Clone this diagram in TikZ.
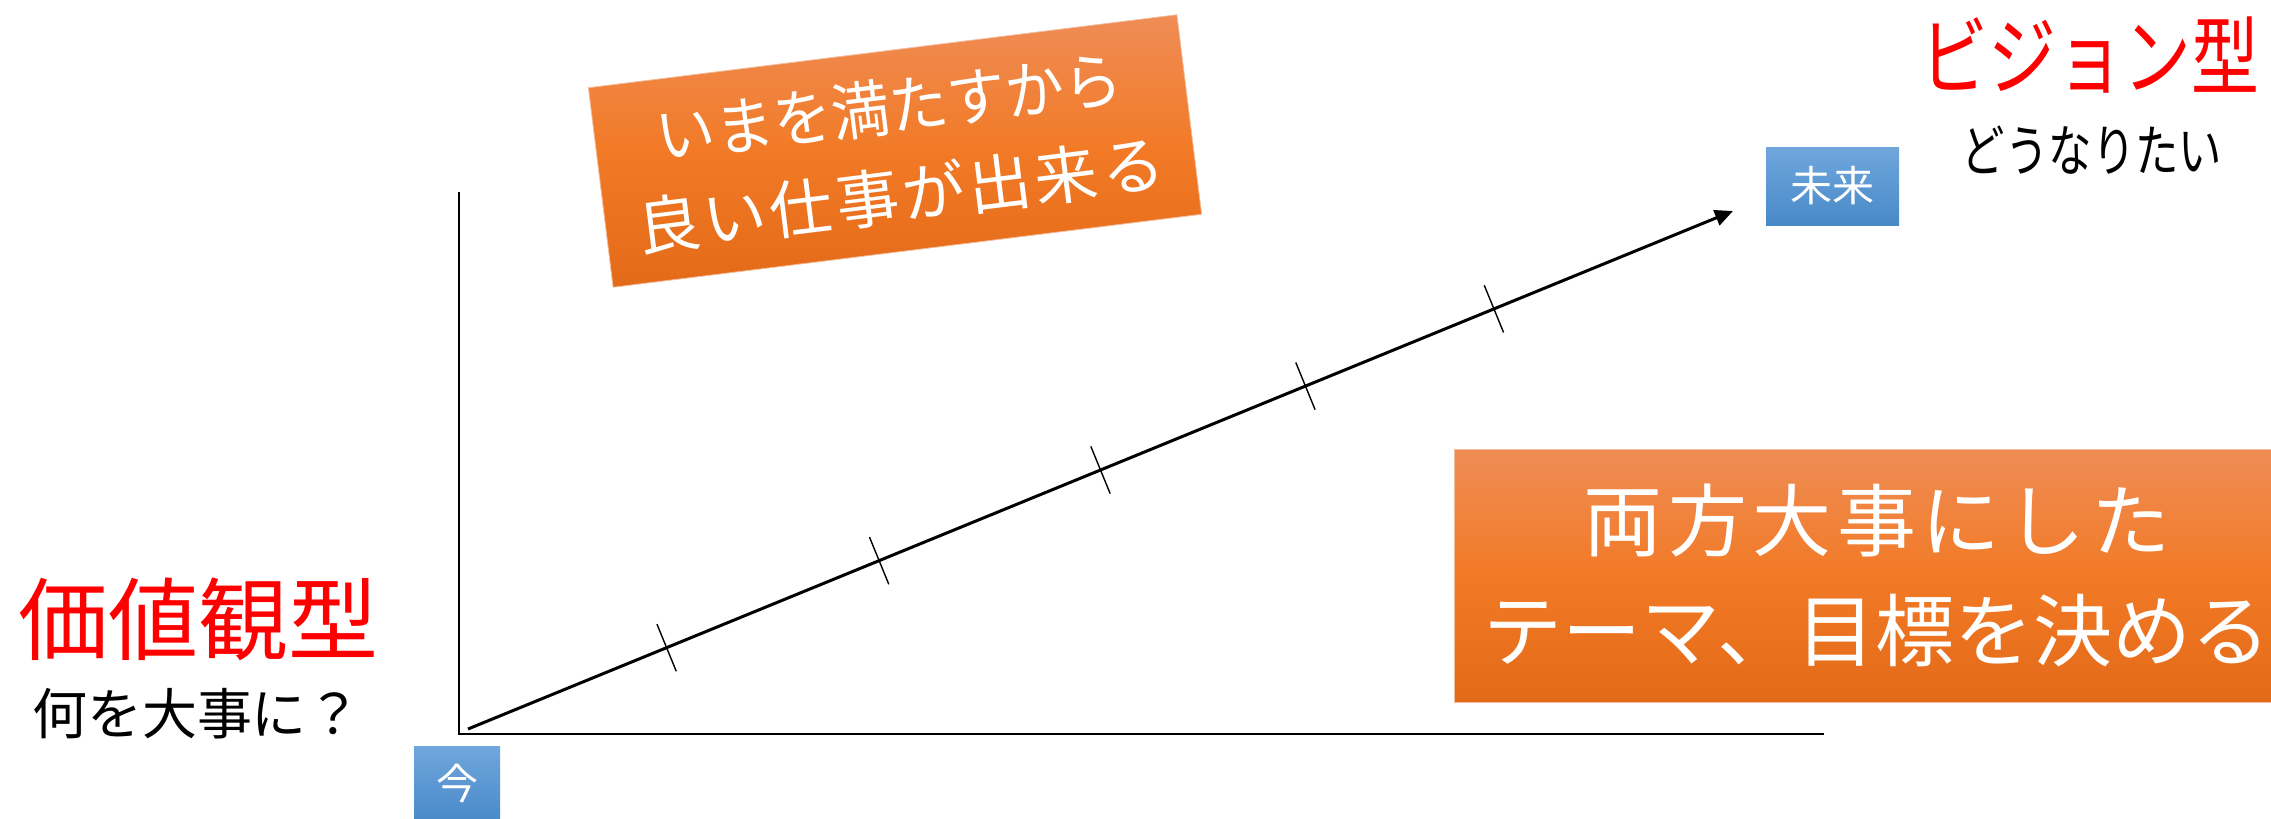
\documentclass[tikz,border=0pt]{standalone}
\usepackage{fontspec}
\usepackage{graphicx}
\newfontfamily\jp{Noto Sans CJK JP}
\usetikzlibrary{arrows.meta}
\definecolor{orTop}{RGB}{239,141,86}
\definecolor{orMid}{RGB}{242,122,38}
\definecolor{orBot}{RGB}{227,106,24}
\definecolor{blTop}{RGB}{112,167,221}
\definecolor{blBot}{RGB}{72,137,200}
\definecolor{redtxt}{RGB}{255,0,0}
\begin{document}
\begin{tikzpicture}[x=1pt,y=-1pt,
  orangebox/.style={top color=orTop, bottom color=orBot, middle color=orMid, draw=orTop!60!white, line width=0.8pt, inner sep=0pt, text=white, align=center},
  bluebox/.style={top color=blTop, bottom color=blBot, inner sep=0pt, text=white, font=\jp\fontsize{42}{46}\selectfont},
  axisline/.style={line width=2pt, black, line join=miter},
  tickmark/.style={draw, line width=1.4pt, sloped, minimum width=0pt, minimum height=51pt, inner sep=0pt, outer sep=0pt},
  redtitle/.style={text=redtxt, inner sep=0pt},
  subtitle/.style={text=black, inner sep=0pt}
]
\useasboundingbox (0,0) rectangle (2271,819);

% axes
\coordinate (ytop) at (459,192);
\coordinate (origin) at (459,734);
\coordinate (xend) at (1824,734);
\draw[axisline] (ytop) -- (origin) -- (xend);

% blue boxes
\node[bluebox, minimum width=86pt, minimum height=76pt] (now) at (457,784) {今};
\node[bluebox, minimum width=133pt, minimum height=78pt] (future) at (1832.5,186) {未来};

% arrow with ticks
\coordinate (a0) at (468,729);
\coordinate (a1) at (1733,211);
\draw[line width=3pt, -{Triangle[length=18pt,width=16pt]}] (a0) -- (a1)
  node[tickmark, pos=0.157] (t1) {}
  node[tickmark, pos=0.325] (t2) {}
  node[tickmark, pos=0.500] (t3) {}
  node[tickmark, pos=0.662] (t4) {}
  node[tickmark, pos=0.811] (t5) {};

% orange boxes
\node[orangebox, rotate=7.07, minimum width=593pt, minimum height=201pt,
      font=\jp\fontsize{63}{89}\selectfont] (topbox) at (895,151)
  {\scalebox{0.93}[1]{いまを満たすから}\\{\addfontfeature{LetterSpace=6}良い仕事が出来る\hspace{-3.8pt}}};
\node[orangebox, minimum width=846pt, minimum height=253pt,
      font=\jp\fontsize{79}{110}\selectfont] (botbox) at (1877,575.5)
  {{\addfontfeature{LetterSpace=7}両方大事にした\hspace{-5.5pt}}\\テーマ、目標を決める};

% titles
\node[redtitle, font=\jp\fontsize{90}{100}\selectfont] (valtitle) at (199,619) {価値観型};
\node[subtitle, font=\jp\fontsize{55}{60}\selectfont] (valsub) at (197,714) {何を大事に？};
\node[redtitle, font=\jp\fontsize{86}{96}\selectfont] (vistitle) at (2090,55) {\scalebox{0.79}[1]{ビジョン型}};
\node[subtitle, font=\jp\fontsize{56}{60}\selectfont] (vissub) at (2092,150) {\scalebox{0.775}[1]{どうなりたい}};
\end{tikzpicture}
\end{document}
